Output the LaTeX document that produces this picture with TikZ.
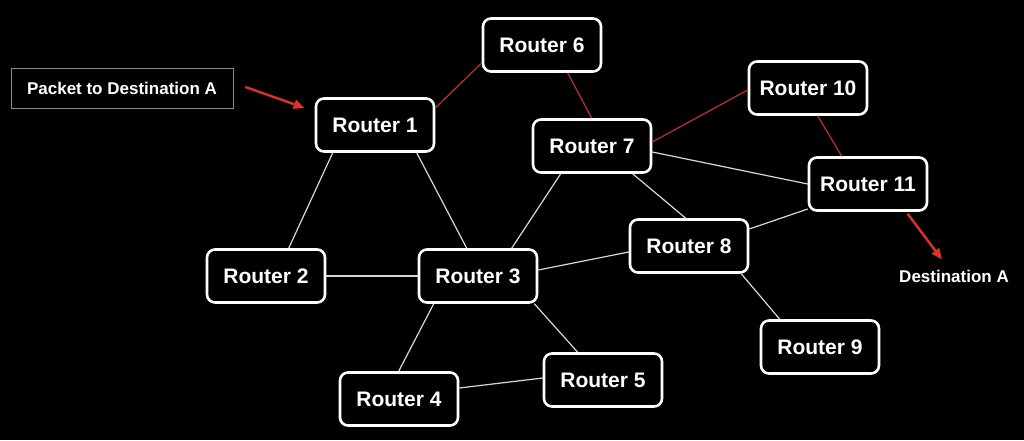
\documentclass[tikz,border=0pt]{standalone}
\usepackage{fontspec}
\setmainfont{Liberation Sans}
\usetikzlibrary{arrows.meta,calc}
\definecolor{linkgray}{HTML}{D8D8D8}
\definecolor{linkred}{HTML}{B0302C}
\definecolor{arrred}{HTML}{E0302A}
\definecolor{boxgray}{HTML}{8A8A8A}
\begin{document}
\begin{tikzpicture}[x=1pt,y=-1pt,
  router/.style={draw=white, line width=2.6pt, rounded corners=8pt, fill=black, text=white,
    minimum width=118pt, minimum height=53pt, inner sep=0pt,
    font=\bfseries\fontsize{21}{24}\selectfont},
  link/.style={draw=linkgray, line width=1.2pt},
  rlink/.style={draw=linkred, line width=1.3pt},
  parrow/.style={draw=arrred, line width=2.4pt, -{Triangle[length=11pt,width=9pt]}},
  lbl/.style={text=white, font=\bfseries\fontsize{17}{20}\selectfont, inner sep=0pt}]
\fill[black] (0,0) rectangle (1024,440);
\useasboundingbox (0,0) rectangle (1024,440);

\node[lbl, draw=boxgray, line width=0.8pt, minimum width=222pt, minimum height=40pt] (pkt) at (122,88) {Packet to Destination A};
\node[lbl] (dest) at (954,276) {Destination A};

\node[router] (r6) at (542,45) {Router 6};
\node[router] (r1) at (375,125) {Router 1};
\node[router] (r7) at (592,146) {Router 7};
\node[router] (r10) at (808,88) {Router 10};
\node[router] (r11) at (868,184) {Router 11};
\node[router] (r2) at (266,276) {Router 2};
\node[router] (r3) at (478,276) {Router 3};
\node[router] (r8) at (689,246) {Router 8};
\node[router] (r9) at (820,347) {Router 9};
\node[router] (r5) at (603,380) {Router 5};
\node[router] (r4) at (399,399) {Router 4};

\draw[link] ($(r1.south west)+(18,0)$) -- ($(r2.north west)+(83,0)$);
\draw[link] ($(r1.south west)+(102,0)$) -- ($(r3.north west)+(49,0)$);
\draw[link] (r2.east) -- (r3.west);
\draw[link] ($(r3.north west)+(94,0)$) -- ($(r7.south west)+(29,0)$);
\draw[link] ($(r3.east)+(0,-6)$) -- ($(r8.west)+(0,6)$);
\draw[link] ($(r3.south west)+(16,0)$) -- ($(r4.north west)+(60,0)$);
\draw[link] ($(r3.south east)+(-4,0)$) -- ($(r5.north west)+(35,0)$);
\draw[link] ($(r4.east)+(0,-11)$) -- ($(r5.west)+(0,-2)$);
\draw[link] ($(r7.south west)+(101,0)$) -- ($(r8.north west)+(57,0)$);
\draw[link] ($(r7.east)+(0,6)$) -- (r11.west);
\draw[link] ($(r8.east)+(0,-17)$) -- ($(r11.west)+(0,25)$);
\draw[link] ($(r8.south east)+(-8,0)$) -- ($(r9.north west)+(20,0)$);

\draw[rlink] ($(r1.east)+(0,-17)$) -- ($(r6.west)+(0,18)$);
\draw[rlink] ($(r6.south west)+(86,0)$) -- ($(r7.north west)+(60,0)$);
\draw[rlink] ($(r7.east)+(0,-4)$) -- ($(r10.west)+(0,2)$);
\draw[rlink] ($(r10.south west)+(70,0)$) -- ($(r11.north west)+(34,0)$);

\draw[parrow] ($(pkt.east)+(12,-1)$) -- ($(r1.west)+(-10,-17)$);
\draw[parrow] ($(r11.south west)+(100,2)$) -- ($(dest.north)+(-12,-10)$);
\end{tikzpicture}
\end{document}
